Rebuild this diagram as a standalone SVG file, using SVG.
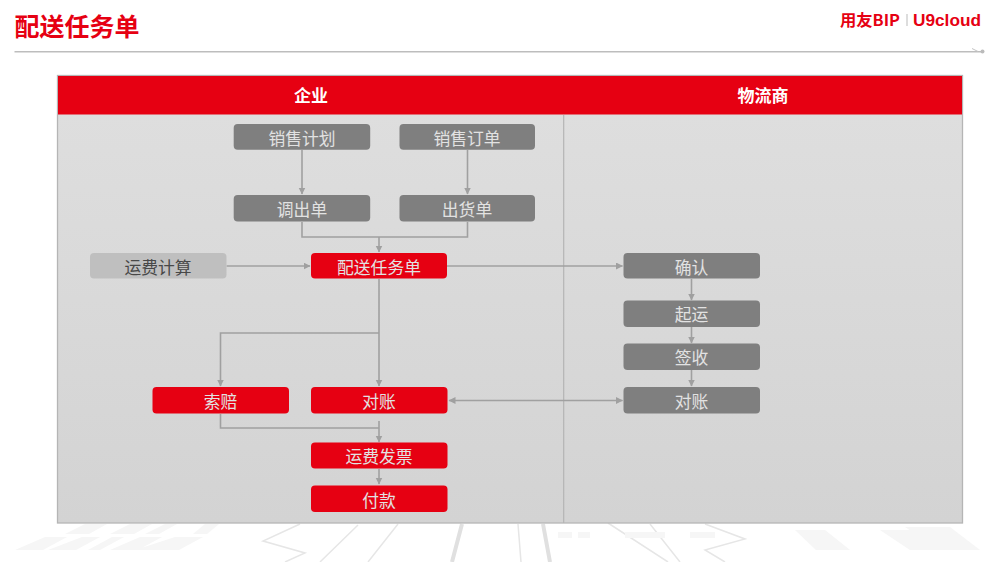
<svg xmlns="http://www.w3.org/2000/svg" width="1000" height="562" viewBox="0 0 1000 562">
<style>
text{font-family:"Noto Sans CJK SC","Liberation Sans",sans-serif;text-anchor:middle}
.n{font-size:16.800px;fill:#e2e2e2}
.d{font-size:16.800px;fill:#484848}
.h{font-size:17px;font-weight:700;fill:#fff}
.g{fill:#7f7f7f}.r{fill:#e60012}.l{fill:#bfbfbf}
.c{fill:none;stroke:#a0a0a0;stroke-width:1.600}
.bg{fill:#f6f6f6}.bl{fill:none;stroke:#e6e6e6;stroke-width:1.500}.bt{fill:none;stroke:#e0e0e0;stroke-width:4}
</style>
<defs>
<linearGradient id="p" x1="0" y1="0" x2="0" y2="1"><stop offset="0" stop-color="#dfdfdf"/><stop offset="1" stop-color="#d3d3d3"/></linearGradient>
<marker id="a" markerWidth="8" markerHeight="8" refX="6.500" refY="3.500" orient="auto-start-reverse" markerUnits="userSpaceOnUse"><path d="M0 0L7 3.500L0 7z" fill="#a0a0a0"/></marker>
</defs>
<rect width="1000" height="562" fill="#fff"/>
<g id="backdrop">
<path class="bg" d="M85 524h22l-18 10h-24zM130 524h22l-18 10h-24zM165 524h12l-18 10h-14zM205 524h14l-12 10h-14zM45 537h22l-24 13h-28zM82 537h18l-24 13h-28zM112 537h12l-24 13h-12zM140 537h22l-24 13h-28zM175 537h28l-24 13h-44z"/>
<path class="bg" d="M795 530h30l25 20h-34zM880 530h38l30 20h-38zM905 527h45l30 23h-40z"/>
<path class="bl" d="M300 524l-37 17 42 12-20 9M358 525l-38 37M398 524l-30 38M608 523l60 39M650 524l30 38M705 524l40 15-40 11 20 12M518 524l3 38"/>
<path class="bt" d="M462 524l-10 38M543 524l7 38"/>
<path class="bg" d="M558 532h14v6h-14zM578 532h12v6h-12zM625 532h40v6h-40zM690 532h25v6h-25z"/>
</g>
<g id="title"><text x="77" y="36" font-size="25" font-weight="700" fill="#e60012">配送任务单</text></g>
<g id="logo">
<text x="870" y="26" font-size="16" font-weight="700" fill="#e60012" textLength="60" lengthAdjust="spacingAndGlyphs">用友BIP</text>
<rect x="906.500" y="14" width="1" height="12" fill="#bbb"/>
<text x="947" y="26" font-size="17" font-weight="700" fill="#e60012" textLength="68" lengthAdjust="spacingAndGlyphs" style="font-family:'Liberation Sans',sans-serif">U9cloud</text>
</g>
<g id="rule"><path d="M14.500 51.700H982" stroke="#bdbdbd" stroke-width="1.500" fill="none"/><path d="M972 48.500l6 3" stroke="#c4c4c4" fill="none"/><circle cx="982.500" cy="51.500" r="2" fill="#bbb"/></g>
<g id="panel">
<rect x="57.500" y="75.500" width="905" height="447.500" fill="url(#p)" stroke="#b5b5b5" stroke-width="1.300"/>
<rect x="58" y="76" width="904" height="38.500" fill="#e60012"/>
<path d="M563.700 115V523" fill="none" stroke="#b4b4b4" stroke-width="1.200"/>
<text class="h" x="311" y="101.500">企业</text>
<text class="h" x="763" y="101.500">物流商</text>
</g>
<g id="connectors">
<path class="c" marker-end="url(#a)" d="M302 150V194"/>
<path class="c" marker-end="url(#a)" d="M467.500 150V194"/>
<path class="c" d="M302 222V237H467.500V222"/>
<path class="c" marker-end="url(#a)" d="M379 237V252"/>
<path class="c" marker-end="url(#a)" d="M226.500 266H310"/>
<path class="c" marker-end="url(#a)" d="M447 266H622.500"/>
<path class="c" marker-end="url(#a)" d="M379 279V386"/>
<path class="c" marker-end="url(#a)" d="M379 333H220.500V386"/>
<path class="c" d="M220.500 414V428H379"/>
<path class="c" marker-end="url(#a)" d="M379 421V442"/>
<path class="c" marker-end="url(#a)" d="M379 469V484"/>
<path class="c" marker-end="url(#a)" d="M691.500 279V300"/>
<path class="c" marker-end="url(#a)" d="M691.500 327V343"/>
<path class="c" marker-end="url(#a)" d="M691.500 370V386"/>
<path class="c" marker-start="url(#a)" marker-end="url(#a)" d="M449 400.500H622.500"/>
</g>
<g id="n-plan"><rect class="g" x="233.700" y="124" width="136.500" height="25.700" rx="4"/><text class="n" x="302" y="145">销售计划</text></g>
<g id="n-order"><rect class="g" x="399.500" y="124" width="135.500" height="25.700" rx="4"/><text class="n" x="467" y="145">销售订单</text></g>
<g id="n-transfer"><rect class="g" x="233.700" y="195" width="136.500" height="26.500" rx="4"/><text class="n" x="302" y="216">调出单</text></g>
<g id="n-ship"><rect class="g" x="399.500" y="195" width="135.500" height="26.500" rx="4"/><text class="n" x="467" y="216">出货单</text></g>
<g id="n-fee"><rect class="l" x="90" y="253" width="136.500" height="25.500" rx="4"/><text class="d" x="158" y="274">运费计算</text></g>
<g id="n-task"><rect class="r" x="311" y="253" width="136" height="25.500" rx="4"/><text class="n" x="379" y="274">配送任务单</text></g>
<g id="n-confirm"><rect class="g" x="623.500" y="253" width="136.500" height="25.500" rx="4"/><text class="n" x="691.500" y="274">确认</text></g>
<g id="n-depart"><rect class="g" x="623.500" y="300.500" width="136.500" height="26.500" rx="4"/><text class="n" x="691.500" y="321">起运</text></g>
<g id="n-sign"><rect class="g" x="623.500" y="343.500" width="136.500" height="26.500" rx="4"/><text class="n" x="691.500" y="364">签收</text></g>
<g id="n-recon2"><rect class="g" x="623.500" y="387" width="136.500" height="26.500" rx="4"/><text class="n" x="691.500" y="408">对账</text></g>
<g id="n-claim"><rect class="r" x="152.500" y="387" width="136.500" height="26.500" rx="4"/><text class="n" x="220.500" y="408">索赔</text></g>
<g id="n-recon1"><rect class="r" x="311" y="387" width="136.500" height="26.500" rx="4"/><text class="n" x="379" y="408">对账</text></g>
<g id="n-invoice"><rect class="r" x="311" y="442.500" width="136.500" height="26" rx="4"/><text class="n" x="379" y="463">运费发票</text></g>
<g id="n-pay"><rect class="r" x="311" y="485.500" width="136.500" height="26.500" rx="4"/><text class="n" x="379" y="506.500">付款</text></g>
</svg>
